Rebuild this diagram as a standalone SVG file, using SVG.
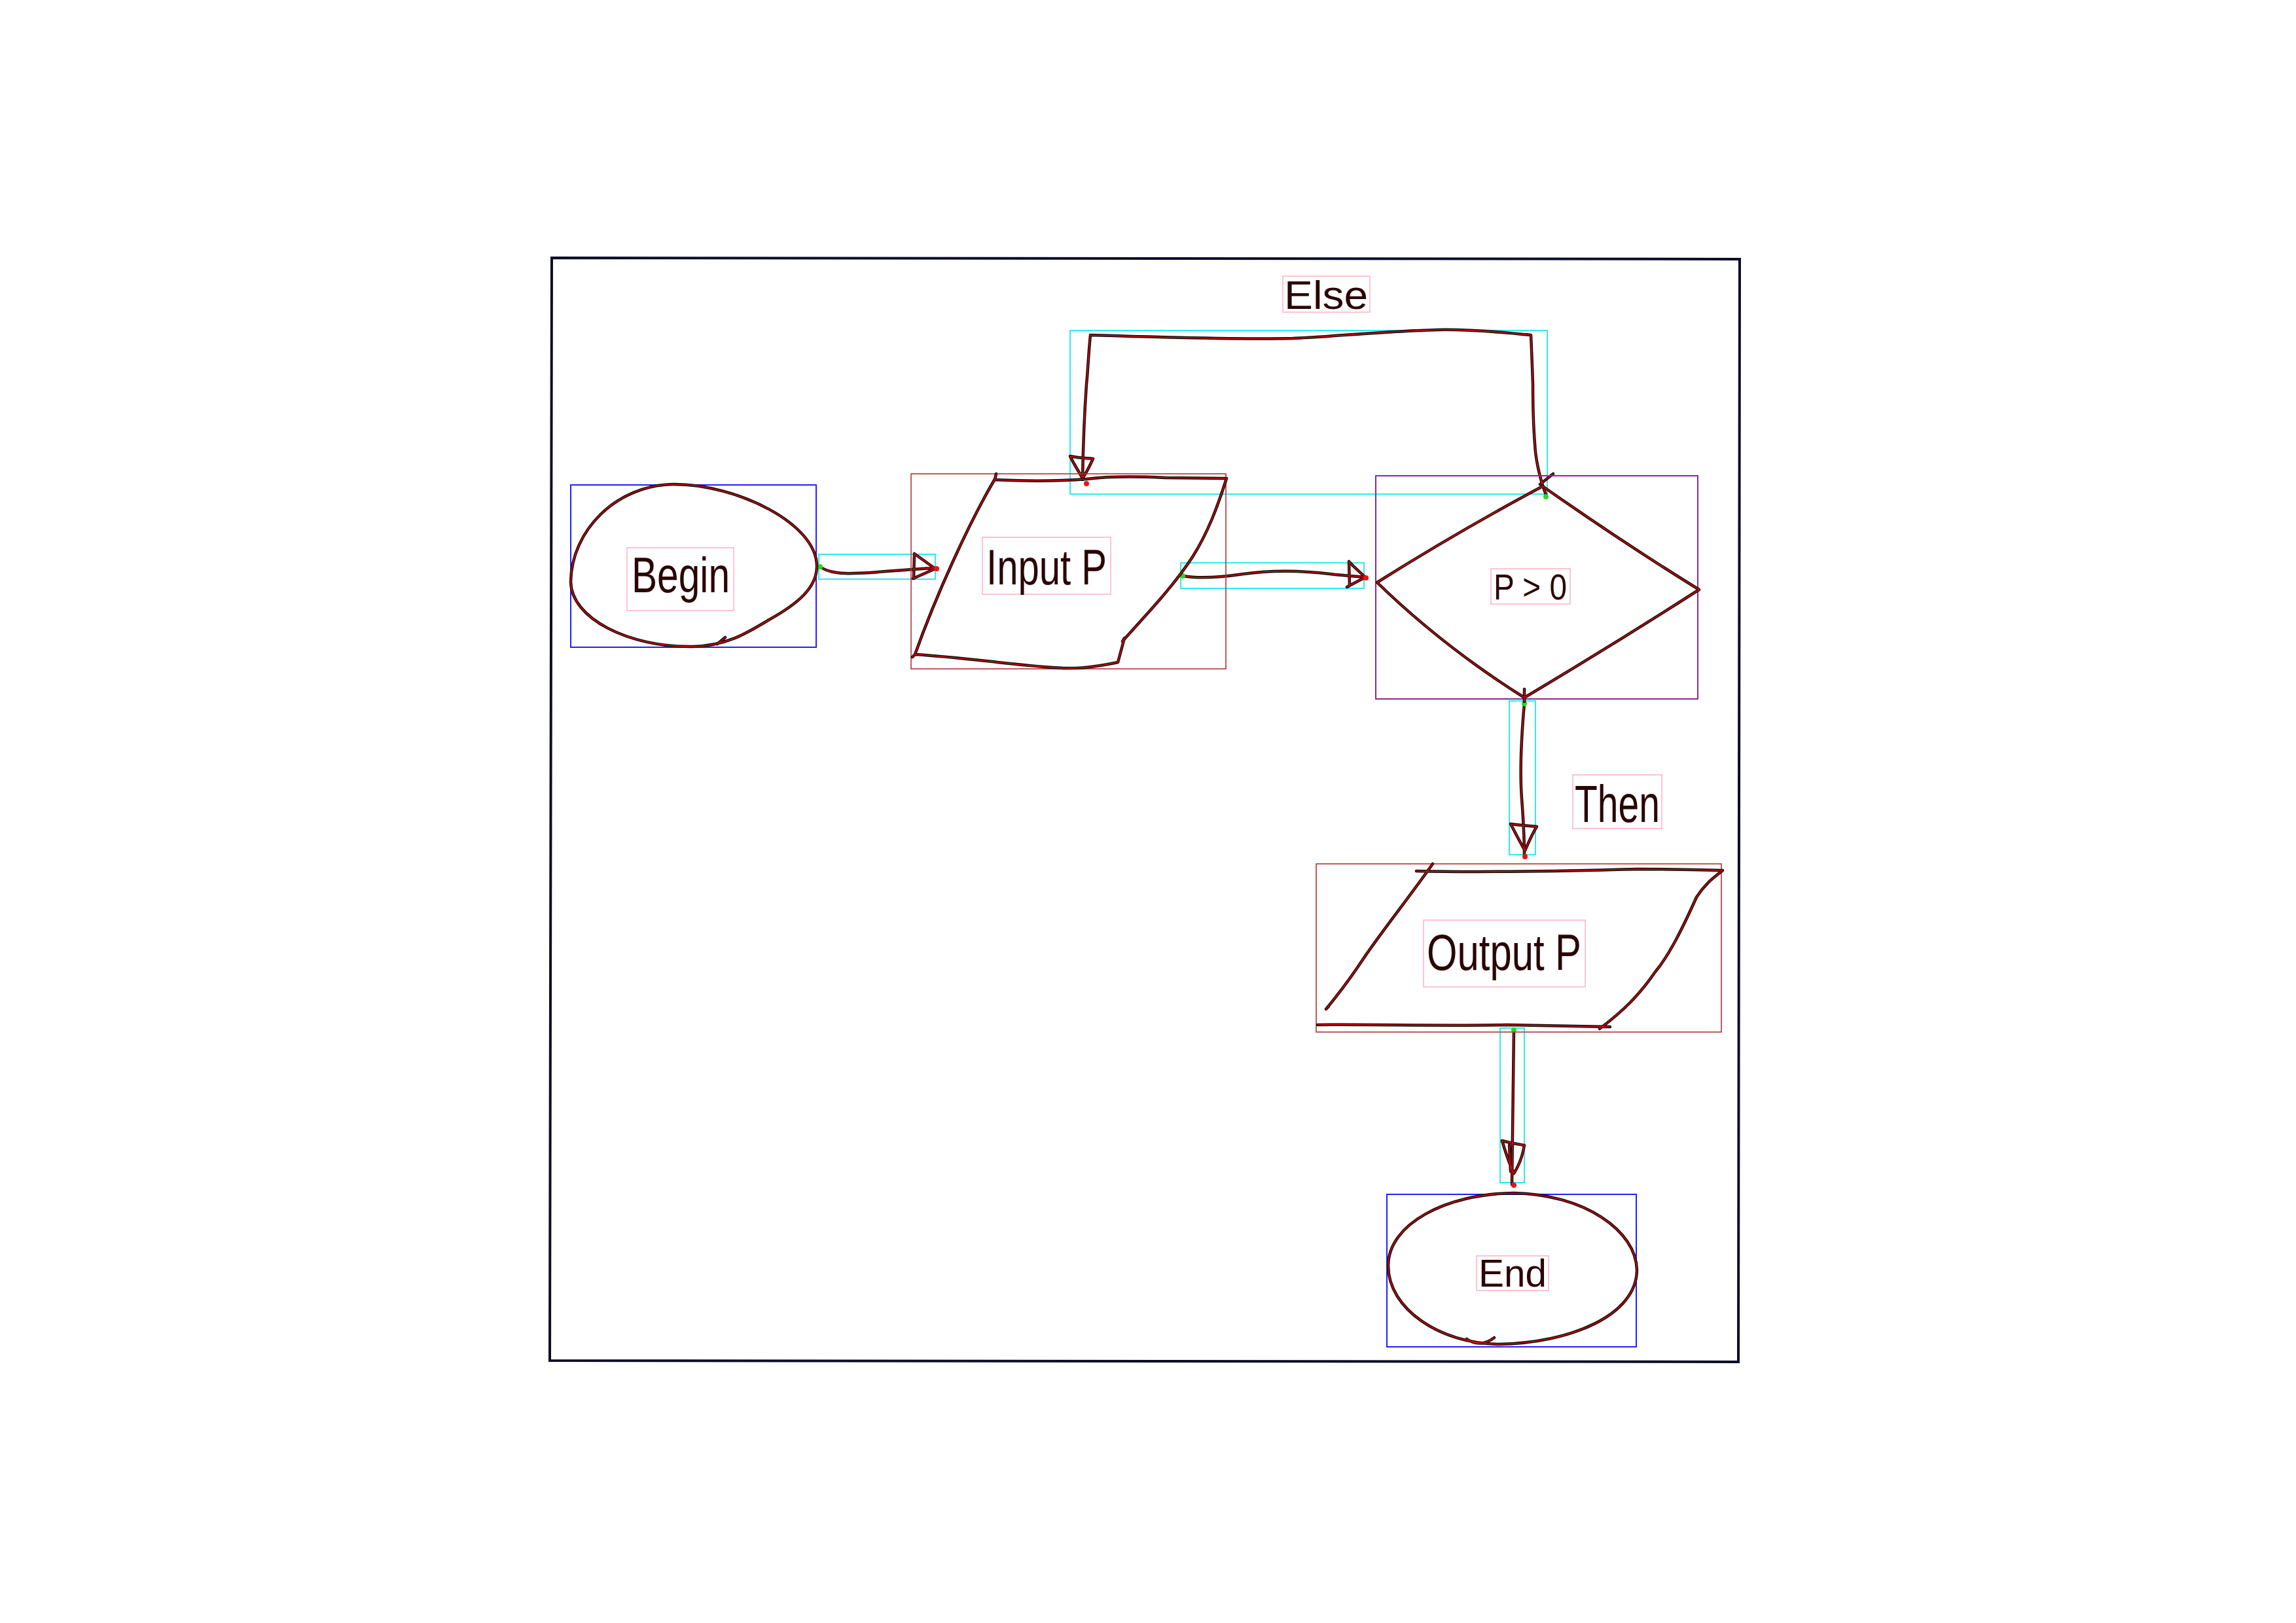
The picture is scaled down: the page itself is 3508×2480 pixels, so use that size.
<svg xmlns="http://www.w3.org/2000/svg" xmlns:xlink="http://www.w3.org/1999/xlink" width="3508" height="2480" viewBox="0 0 3508 2480">
<style>
.ink{fill:none;stroke:#111;stroke-width:4.5;stroke-linecap:round;stroke-linejoin:round}
.trace{fill:none;stroke:#e00000;stroke-width:1.6;stroke-linecap:round;stroke-linejoin:round}
.lbl{font-family:"Liberation Sans","DejaVu Sans",sans-serif;fill:#2a0505;text-anchor:middle}
.bx-term{fill:none;stroke:#2020ff;stroke-width:2}
.bx-io{fill:none;stroke:#b03535;stroke-width:1.6}
.bx-dec{fill:none;stroke:#8a2a8a;stroke-width:2}
.bx-con{fill:none;stroke:#00e5e5;stroke-width:1.6}
.bx-txt{fill:none;stroke:#ffb6c8;stroke-width:1.6}
.dot-s{fill:#22dd22}
.dot-e{fill:#ee1111}
</style>
<defs>
<path id="s-begin" d="M1248,867 C1250,800 1125,740 1030,740 C940,741 873,812 872,889 C873,945 960,989 1058,988 C1110,987 1140,968 1175,947 C1220,922 1247,898 1248,867 Z M1096,984 L1108,974"/>
<path id="s-input" d="M1522,724 L1520,733 C1580,736 1620,735 1660,732 C1700,727 1740,728 1780,730 L1874,731 C1860,775 1845,815 1822,851 C1790,900 1750,940 1715,980 L1718,975 L1708,1012 C1680,1018 1655,1022 1626,1021 C1560,1018 1470,1004 1398,1000 L1394,1004 M1398,1000 C1430,910 1480,800 1520,732"/>
<path id="s-dec" d="M2357,743 Q2228,812 2104,890 Q2205,988 2329,1066 Q2465,985 2596,901 Q2478,828 2357,743 Z M2329,1053 L2329,1072"/>
<path id="s-output" d="M2164,1331 C2300,1334 2420,1330 2500,1328 C2560,1328 2600,1329 2632,1330 C2620,1340 2605,1350 2592,1371 C2570,1420 2550,1460 2529,1485 C2505,1520 2480,1545 2444,1572 M2189,1320 C2150,1375 2110,1425 2083,1465 C2060,1500 2040,1525 2026,1542 L2030,1538 M2013,1566 C2100,1565 2200,1568 2301,1566 C2380,1567 2430,1568 2460,1569"/>
<path id="s-end" d="M2313,1823 C2420,1825 2500,1880 2501,1941 C2500,2010 2400,2052 2290,2054 C2200,2053 2121,2000 2121,1934 C2121,1870 2210,1824 2313,1823 Z M2241,2046 C2255,2056 2270,2054 2283,2044"/>
<path id="c1" d="M1253,866 C1270,878 1295,877 1330,875 C1370,872 1400,869 1428,868 M1397,846 L1396,884 M1397,846 L1429,869 L1395,884"/>
<path id="c2" d="M1807,880 C1830,884 1860,883 1900,877 C1950,870 1995,872 2040,878 L2086,882 M2061,858 L2062,895 M2061,858 C2070,868 2080,876 2086,882 C2075,888 2065,893 2058,897"/>
<path id="c3" d="M2362,756 C2352,730 2346,700 2345,678 C2342,640 2342,610 2342,587 C2341,560 2340,530 2339,512 C2300,508 2240,503 2196,504 C2120,506 2040,514 1975,517 C1880,519 1760,515 1666,512 C1663,540 1662,570 1660,587 C1657,630 1655,670 1654,733 M2353,740 L2373,724 M1635,697 C1650,700 1660,700 1670,701 C1665,712 1660,722 1654,731 C1648,720 1640,708 1635,697 Z"/>
<path id="c4" d="M2329,1075 C2325,1120 2322,1180 2325,1220 C2328,1260 2329,1290 2329,1306 M2308,1259 C2322,1261 2335,1262 2348,1263 C2340,1276 2335,1288 2330,1300 C2322,1286 2315,1272 2308,1259 Z"/>
<path id="c5" d="M2313,1574 C2312,1650 2311,1730 2310,1810 M2295,1743 C2305,1746 2318,1748 2329,1750 C2326,1768 2320,1782 2313,1793 C2306,1778 2300,1760 2295,1743 Z M2306,1750 L2308,1790"/>
</defs>
<rect width="3508" height="2480" fill="#ffffff"/>
<g id="frame">
<path d="M843,394 L2658,396 L2656,2081 L840,2079 Z" fill="none" stroke="#0d0d2a" stroke-width="4"/>
</g>
<g id="connectors">
<rect class="bx-con" x="1251" y="847" width="178" height="38"/>
<rect class="bx-con" x="1804" y="860" width="280" height="39"/>
<rect class="bx-con" x="1635" y="505" width="729" height="250"/>
<rect class="bx-con" x="2306" y="1071" width="40" height="235"/>
<rect class="bx-con" x="2292" y="1571" width="37" height="236"/>
<use xlink:href="#c1" class="ink"/><use xlink:href="#c1" class="trace"/>
<use xlink:href="#c2" class="ink"/><use xlink:href="#c2" class="trace"/>
<use xlink:href="#c3" class="ink"/><use xlink:href="#c3" class="trace"/>
<use xlink:href="#c4" class="ink"/><use xlink:href="#c4" class="trace"/>
<use xlink:href="#c5" class="ink"/><use xlink:href="#c5" class="trace"/>
<circle class="dot-s" cx="1253" cy="866" r="4"/>
<circle class="dot-e" cx="1431" cy="869" r="4"/>
<circle class="dot-s" cx="1807" cy="880" r="4"/>
<circle class="dot-e" cx="2087" cy="883" r="4"/>
<circle class="dot-s" cx="2362" cy="759" r="4"/>
<circle class="dot-e" cx="1660" cy="739" r="4"/>
<circle class="dot-s" cx="2329" cy="1075" r="4"/>
<circle class="dot-e" cx="2330" cy="1309" r="4"/>
<circle class="dot-s" cx="2313" cy="1574" r="4"/>
<circle class="dot-e" cx="2313" cy="1811" r="4"/>
<g id="label-else">
<rect class="bx-txt" x="1960" y="422" width="133" height="55"/>
<text class="lbl" x="2026" y="472" font-size="62" textLength="128" lengthAdjust="spacingAndGlyphs">Else</text>
</g>
<g id="label-then">
<rect class="bx-txt" x="2403" y="1184" width="136" height="82"/>
<text class="lbl" x="2471" y="1256" font-size="80" textLength="130" lengthAdjust="spacingAndGlyphs">Then</text>
</g>
</g>
<g id="node-begin">
<rect class="bx-term" x="872" y="741" width="375" height="248"/>
<use xlink:href="#s-begin" class="ink"/><use xlink:href="#s-begin" class="trace"/>
<rect class="bx-txt" x="958" y="837" width="163" height="96"/>
<text class="lbl" x="1040" y="905" font-size="76" textLength="150" lengthAdjust="spacingAndGlyphs">Begin</text>
</g>
<g id="node-input">
<rect class="bx-io" x="1392" y="724" width="481" height="298"/>
<use xlink:href="#s-input" class="ink"/><use xlink:href="#s-input" class="trace"/>
<rect class="bx-txt" x="1501" y="821" width="196" height="87"/>
<text class="lbl" x="1599" y="893" font-size="76" textLength="184" lengthAdjust="spacingAndGlyphs">Input P</text>
</g>
<g id="node-decision">
<rect class="bx-dec" x="2102" y="727" width="492" height="341"/>
<use xlink:href="#s-dec" class="ink"/><use xlink:href="#s-dec" class="trace"/>
<rect class="bx-txt" x="2278" y="869" width="121" height="54"/>
<text class="lbl" x="2338" y="916" font-size="56" textLength="112" lengthAdjust="spacingAndGlyphs">P &gt; 0</text>
</g>
<g id="node-output">
<rect class="bx-io" x="2011" y="1320" width="619" height="257"/>
<use xlink:href="#s-output" class="ink"/><use xlink:href="#s-output" class="trace"/>
<rect class="bx-txt" x="2175" y="1406" width="247" height="102"/>
<text class="lbl" x="2298" y="1482" font-size="78" textLength="236" lengthAdjust="spacingAndGlyphs">Output P</text>
</g>
<g id="node-end">
<rect class="bx-term" x="2119" y="1825" width="381" height="233"/>
<use xlink:href="#s-end" class="ink"/><use xlink:href="#s-end" class="trace"/>
<rect class="bx-txt" x="2256" y="1919" width="110" height="53"/>
<text class="lbl" x="2311" y="1966" font-size="60" textLength="104" lengthAdjust="spacingAndGlyphs">End</text>
</g>
</svg>
